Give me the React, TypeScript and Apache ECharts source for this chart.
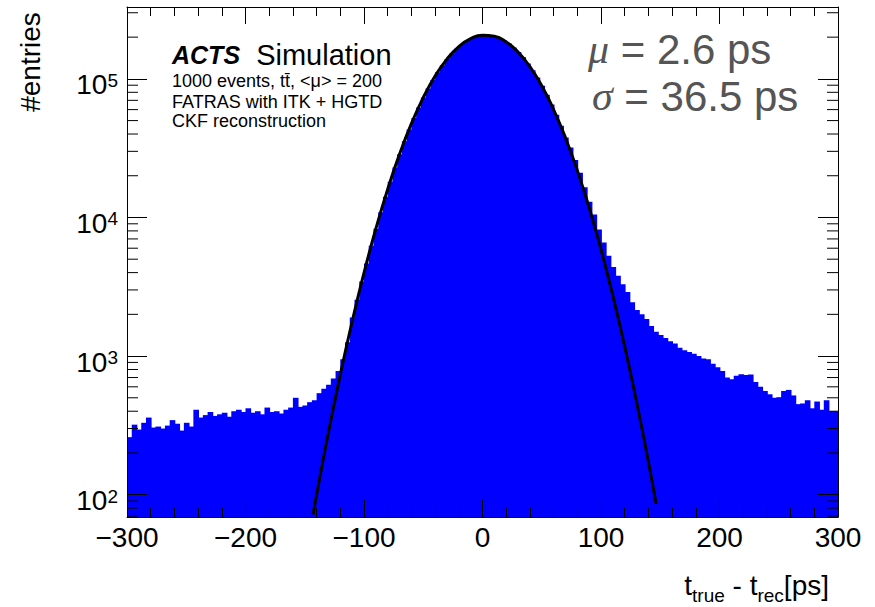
import React, { useEffect, useRef } from 'react';
import * as echarts from 'echarts';

// Histogram: bins of 4 ps starting at -300 ps
const BIN_START = -300;
const BIN_WIDTH = 4;
const counts = [
  // -300 .. -204
  260, 320, 295, 330, 360, 305, 310, 300, 315, 345, 325, 290, 330, 310, 410, 360, 375, 395, 370, 380, 390, 365, 400, 410, 395,
  // -200 .. -104
  420, 390, 400, 380, 425, 395, 400, 385, 410, 425, 500, 430, 440, 465, 480, 540, 580, 620, 690, 780, 950, 1260, 1900, 2550, 3450,
  // -100 .. -4
  4650, 6250, 8300, 10900, 14100, 18100, 22900, 28600, 35400, 43200, 52200, 62200, 73300, 85300, 98100, 111500, 125200, 138900, 152300, 164900, 176500, 186700, 195000, 201300, 205400,
  // 0 .. 96
  207000, 206100, 202800, 197100, 189400, 179700, 168500, 156200, 143000, 129300, 115600, 102100, 89100, 76800, 65400, 55100, 45800, 37800, 32000, 26000, 21000, 16500, 13000, 10500, 8200,
  // 100 .. 196
  6600, 5300, 4400, 3800, 3300, 2900, 2450, 2150, 2000, 1850, 1650, 1500, 1420, 1350, 1280, 1230, 1150, 1100, 1070, 1040, 1000, 960, 950, 880, 830,
  // 200 .. 296
  780, 700, 680, 720, 740, 730, 735, 650, 600, 560, 530, 500, 505, 560, 570, 520, 450, 455, 480, 420, 470, 410, 480, 400, 400,
];

// Gaussian fit curve
const fitX = [-143, -140, -130, -120, -110, -100, -90, -80, -70, -60, -50, -40, -30, -20, -10, 0, 10, 20, 30, 40, 50, 60, 70, 80, 90, 100, 110, 120, 130, 140, 146.5];
const fitY = [72, 100, 282, 735, 1776, 3980, 8290, 15990, 28640, 47550, 73300, 104800, 138900, 170900, 195000, 206500, 202800, 184800, 156200, 122500, 89100, 60100, 37640, 21870, 11770, 5886, 2728, 1174, 468, 173, 86];

const X_MIN = -300;
const X_MAX = 300;
const X_INTERVAL = 100;
const Y_MIN = 69;
const Y_MAX = 330000;
const yMinorTicks = [
  70, 80, 90,
  200, 300, 400, 500, 600, 700, 800, 900,
  2000, 3000, 4000, 5000, 6000, 7000, 8000, 9000,
  20000, 30000, 40000, 50000, 60000, 70000, 80000, 90000,
  200000, 300000,
];

const FONT = 'Liberation Sans';
const BLUE = '#0000ff';

export default function App() {
  const ref = useRef<HTMLDivElement>(null);
  useEffect(() => {
    const chart = echarts.init(ref.current as HTMLDivElement, null, { renderer: 'svg' });
    const binData = counts.map((c, i) => [BIN_START + i * BIN_WIDTH, BIN_START + (i + 1) * BIN_WIDTH, c]);
    const fitData = fitX.map((x, i) => [x, fitY[i]]);
    const minorData = yMinorTicks.map((v) => [X_MIN, v]);

    const xAxisBase = {
      type: 'value',
      min: X_MIN,
      max: X_MAX,
      interval: X_INTERVAL,
      z: 5,
      axisLine: { show: true, onZero: false, lineStyle: { color: '#000', width: 1 } },
      axisTick: { show: true, inside: true, length: 17, lineStyle: { color: '#000', width: 1 } },
      minorTick: { show: true, splitNumber: 5, length: 9, lineStyle: { color: '#000', width: 1 } },
      splitLine: { show: false },
      minorSplitLine: { show: false },
    };
    const yAxisBase = {
      type: 'log',
      logBase: 10,
      min: Y_MIN,
      max: Y_MAX,
      z: 5,
      axisLine: { show: true, onZero: false, lineStyle: { color: '#000', width: 1 } },
      axisTick: { show: true, inside: true, length: 20, lineStyle: { color: '#000', width: 1 } },
      splitLine: { show: false },
    };

    const option: any = {
      animation: false,
      backgroundColor: '#ffffff',
      grid: { left: 127, right: 37, top: 7, bottom: 90, containLabel: false, outerBoundsMode: 'none' },
      xAxis: [
        {
          ...xAxisBase,
          position: 'bottom',
          axisLabel: {
            show: true,
            fontSize: 28,
            fontFamily: FONT,
            color: '#000',
            margin: 6,
            formatter: (v: number) => String(v).replace('-', '\u2212'),
          },
        },
        { ...xAxisBase, position: 'top', axisLabel: { show: false } },
      ],
      yAxis: [
        {
          ...yAxisBase,
          position: 'left',
          axisLabel: {
            show: true,
            margin: 9,
            color: '#000',
            fontFamily: FONT,
            padding: [12, 0, 0, 0],
            formatter: (v: number) => {
              const l = Math.log10(v);
              const e = Math.round(l);
              if (Math.abs(l - e) > 1e-6) return '';
              return `{b|10}{s|${e}}`;
            },
            rich: {
              b: { fontSize: 28, fontFamily: FONT, color: '#000', verticalAlign: 'top' },
              s: { fontSize: 19, fontFamily: FONT, color: '#000', verticalAlign: 'top' },
            },
          },
        },
        { ...yAxisBase, position: 'right', axisLabel: { show: false } },
      ],
      series: [
        {
          type: 'custom',
          name: 'hist',
          xAxisIndex: 0,
          yAxisIndex: 0,
          z: 2,
          silent: true,
          encode: { x: [0, 1], y: 2 },
          data: binData,
          renderItem: (params: any, api: any) => {
            const x0 = api.value(0);
            const x1 = api.value(1);
            const v = api.value(2);
            const top = api.coord([x0, v]);
            const bot = api.coord([x1, Y_MIN]);
            const last = x1 >= X_MAX;
            return {
              type: 'rect',
              shape: {
                x: top[0],
                y: top[1],
                width: bot[0] - top[0] + (last ? 0 : 0.9),
                height: bot[1] - top[1],
              },
              style: { fill: BLUE },
            };
          },
        },
        {
          type: 'line',
          name: 'fit',
          xAxisIndex: 0,
          yAxisIndex: 0,
          z: 3,
          data: fitData,
          smooth: true,
          showSymbol: false,
          symbol: 'none',
          lineStyle: { color: '#000', width: 3 },
          silent: true,
        },
        {
          type: 'custom',
          name: 'yminor',
          xAxisIndex: 0,
          yAxisIndex: 0,
          z: 6,
          silent: true,
          clip: false,
          encode: { x: 0, y: 1 },
          data: minorData,
          renderItem: (params: any, api: any) => {
            const v = api.value(1);
            const l = api.coord([X_MIN, v]);
            const r = api.coord([X_MAX, v]);
            return {
              type: 'group',
              children: [
                { type: 'line', shape: { x1: l[0], y1: l[1], x2: l[0] + 11, y2: l[1] }, style: { stroke: '#000', lineWidth: 1 } },
                { type: 'line', shape: { x1: r[0] - 11, y1: r[1], x2: r[0], y2: r[1] }, style: { stroke: '#000', lineWidth: 1 } },
              ],
            };
          },
        },
      ],
      graphic: [
        {
          type: 'text',
          x: 30,
          y: 62,
          rotation: Math.PI / 2,
          style: { text: '#entries', fontSize: 28, fontFamily: FONT, fill: '#000', align: 'center', verticalAlign: 'middle' },
        },
        {
          type: 'text',
          x: 829,
          y: 588,
          style: {
            text: '{m|t}{s|true}{m| - t}{s|rec}{m|[ps]}',
            align: 'right',
            verticalAlign: 'middle',
            rich: {
              m: { fontSize: 28, fontFamily: FONT, fill: '#000', verticalAlign: 'top' },
              s: { fontSize: 19, fontFamily: FONT, fill: '#000', verticalAlign: 'top', padding: [14, 0, 0, 0] },
            },
          },
        },
        {
          type: 'text',
          x: 172,
          y: 55,
          style: {
            text: '{a|ACTS}{b|  Simulation}',
            verticalAlign: 'middle',
            rich: {
              a: { fontSize: 25, fontFamily: FONT, fontWeight: 'bold', fontStyle: 'italic', fill: '#000' },
              b: { fontSize: 29, fontFamily: FONT, fill: '#000' },
            },
          },
        },
        {
          type: 'text',
          x: 172,
          y: 81,
          style: { text: '1000 events, tt\u0304, <\u03bc> = 200', fontSize: 18, fontFamily: FONT, fill: '#000', verticalAlign: 'middle' },
        },
        {
          type: 'text',
          x: 172,
          y: 102,
          style: { text: 'FATRAS with ITK + HGTD', fontSize: 18, fontFamily: FONT, fill: '#000', verticalAlign: 'middle' },
        },
        {
          type: 'text',
          x: 172,
          y: 121,
          style: { text: 'CKF reconstruction', fontSize: 18, fontFamily: FONT, fill: '#000', verticalAlign: 'middle' },
        },
        {
          type: 'text',
          x: 588,
          y: 49,
          style: {
            text: '{g|\u03bc}{n| = 2.6 ps}',
            verticalAlign: 'middle',
            rich: {
              g: { fontSize: 42, fontFamily: 'Liberation Serif', fontStyle: 'italic', fill: '#555555' },
              n: { fontSize: 42, fontFamily: FONT, fill: '#555555' },
            },
          },
        },
        {
          type: 'text',
          x: 592,
          y: 96,
          style: {
            text: '{g|\u03c3}{n| = 36.5 ps}',
            verticalAlign: 'middle',
            rich: {
              g: { fontSize: 42, fontFamily: 'Liberation Serif', fontStyle: 'italic', fill: '#555555' },
              n: { fontSize: 42, fontFamily: FONT, fill: '#555555' },
            },
          },
        },
      ],
    };
    chart.setOption(option);
    return () => chart.dispose();
  }, []);
  return (
    <div
      ref={ref}
      style={{ position: 'fixed', left: 0, top: 0, width: 875, height: 607, background: '#ffffff' }}
    />
  );
}
